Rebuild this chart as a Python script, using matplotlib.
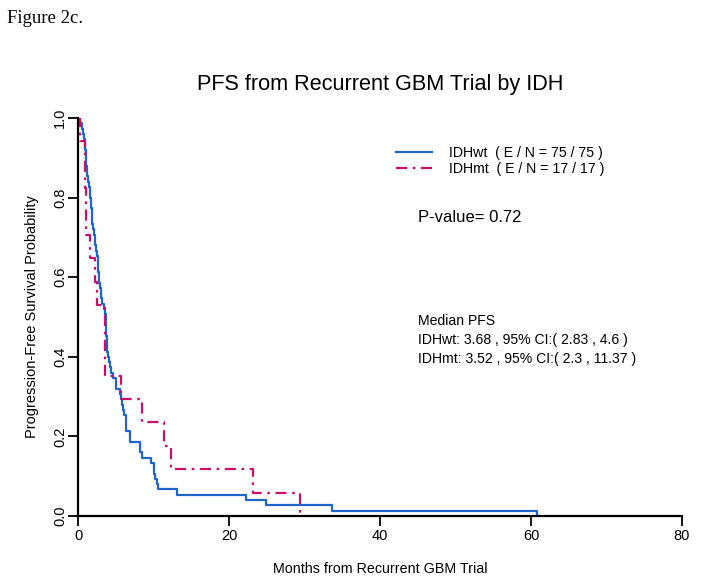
import numpy as np
import matplotlib
matplotlib.use("Agg")
import matplotlib.pyplot as plt

plt.rcParams['font.family'] = ['Liberation Sans', 'DejaVu Sans']

# event times (months), every patient progressed (E = N)
idhwt_times = [0.3, 0.5, 0.7, 0.8, 0.9, 0.95, 1.0, 1.05, 1.1, 1.15, 1.2, 1.3,
               1.4, 1.6, 1.65, 1.7, 1.75, 1.8, 1.85, 1.9, 2.0, 2.1, 2.2,
               2.3, 2.4, 2.5, 2.6, 2.65, 2.7, 2.75, 2.83, 2.9, 3.0, 3.1, 3.2,
               3.4, 3.6, 3.68, 3.7, 3.72, 3.75, 3.78, 3.8, 3.9, 4.0, 4.1, 4.3,
               4.4, 4.6, 5.0, 5.0, 5.6, 5.7, 5.8, 5.9, 6.1, 6.4, 6.4, 6.4,
               6.9, 6.9, 8.2, 8.2, 8.5, 9.7, 10.0, 10.1, 10.2, 10.4, 10.6,
               13.1, 22.2, 24.9, 33.6, 60.8]
idhmt_times = [0.3, 0.9, 0.95, 1.0, 1.1, 1.6, 2.2, 2.5, 3.52, 3.55, 3.6,
               5.7, 8.5, 11.37, 12.3, 23.2, 29.4]

labels = ["IDHwt  ( E / N = 75 / 75 )", "IDHmt  ( E / N = 17 / 17 )"]
median_lines = ["Median PFS",
                "IDHwt: 3.68 , 95% CI:( 2.83 , 4.6 )",
                "IDHmt: 3.52 , 95% CI:( 2.3 , 11.37 )"]
pvalue = "P-value= 0.72"
xticks = [0, 20, 40, 60, 80]
yticks = [0.0, 0.2, 0.4, 0.6, 0.8, 1.0]


def km(times):
    t = np.sort(np.asarray(times, dtype=float))
    n = len(t)
    s = 1.0 - np.arange(1, n + 1) / n
    return np.concatenate([[0.0], t]), np.concatenate([[1.0], s])


fig = plt.figure(figsize=(7.04, 5.85), dpi=100)
ax = fig.add_axes([0.1108, 0.1179, 0.858, 0.6804])

x1, y1 = km(idhwt_times)
x2, y2 = km(idhmt_times)
blue = "#1f66c8"
red = "#c8106a"
ax.step(x1, y1, where="post", color=blue, lw=1.6, label=labels[0])
ax.step(x2, y2, where="post", color=red, lw=1.6,
        linestyle=(0, (5, 2.5, 1.2, 2.5)), label=labels[1])

ax.set_xlim(0, 80)
ax.set_ylim(0, 1)
ax.spines['top'].set_visible(False)
ax.spines['right'].set_visible(False)
for s in ['left', 'bottom']:
    ax.spines[s].set_linewidth(1.6)
ax.set_xticks(xticks)
ax.set_yticks(yticks)
ax.set_yticklabels(["%.1f" % v for v in yticks], rotation=90, va="center")
ax.tick_params(direction="out", length=7, width=1.3, labelsize=10.5)
ax.tick_params(axis="x", pad=2)
ax.tick_params(axis="y", pad=1)

ax.set_xlabel("Months from Recurrent GBM Trial", fontsize=10.3, labelpad=14)
ax.set_ylabel("Progression-Free Survival Probability", fontsize=10.5,
              labelpad=10)
ax.set_title("PFS from Recurrent GBM Trial by IDH", fontsize=15.6, pad=20)

ax.legend(loc="upper left", bbox_to_anchor=(0.527, 0.93), frameon=False,
          fontsize=10.2, handlelength=2.5, handletextpad=1.2,
          labelspacing=0.12, borderpad=0, borderaxespad=0)

ax.text(45.0, 0.749, pvalue, fontsize=12, va="center")
for i, line in enumerate(median_lines):
    ax.text(45.0, 0.49 - i * 0.048, line, fontsize=10.1, va="center")

fig.text(0.01, 0.968, "Figure 2c.", family="Liberation Serif", fontsize=13.5,
         va="center")

fig.savefig("out.png", dpi=100)
